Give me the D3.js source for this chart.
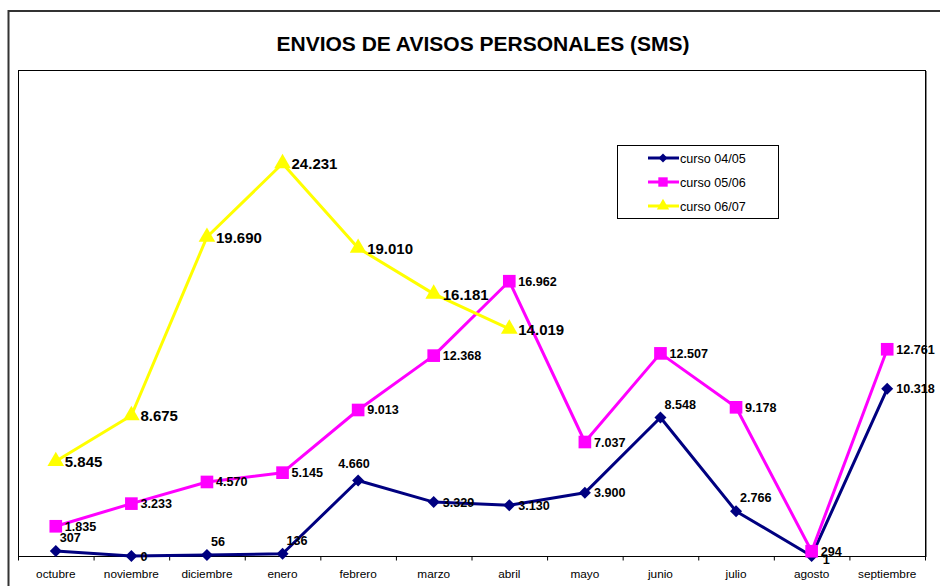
<!DOCTYPE html>
<html>
<head>
<meta charset="utf-8">
<script src="https://d3js.org/d3.v7.min.js"></script>
<style>
body { margin: 0; background: #fff; font-family: 'Liberation Sans', Arial, sans-serif; }
svg { display: block; }
</style>
</head>
<body>
<svg id="chart"></svg>
<script>
// Data
var months = ["octubre", "noviembre", "diciembre", "enero", "febrero", "marzo",
              "abril", "mayo", "junio", "julio", "agosto", "septiembre"];
var curso0405 = [307, 0, 56, 136, 4660, 3329, 3130, 3900, 8548, 2766, 1, 10318];
var curso0506 = [1835, 3233, 4570, 5145, 9013, 12368, 16962, 7037, 12507, 9178, 294, 12761];
var curso0607 = [5845, 8675, 19690, 24231, 19010, 16181, 14019];
// where each label of 04/05 sits: "r" right of the marker, "t" above it
var place0405 = ["t", "r", "t", "t", "c", "r", "r", "r", "t", "t", "b", "r"];
var seriesNames = ["curso 04/05", "curso 05/06", "curso 06/07"];

var width = 940, height = 586;
// note: "top" is a reserved window property, so use plot* names
var plotLeft = 18, plotRight = 925, plotTop = 70, plotBottom = 556;

var svg = d3.select("#chart").attr("width", width).attr("height", height);

// outer chart border (runs off the page on the right and bottom)
svg.append("rect")
  .attr("x", 8.5).attr("y", 11)
  .attr("width", 960).attr("height", 600)
  .attr("fill", "none").attr("stroke", "#333").attr("stroke-width", 2);

svg.append("text")
  .attr("x", 483).attr("y", 51)
  .attr("text-anchor", "middle")
  .style("font-size", "21px").style("font-weight", "bold")
  .text("ENVIOS DE AVISOS PERSONALES (SMS)");

var x = d3.scaleBand().domain(months).range([plotLeft, plotRight]);
var y = d3.scaleLinear().domain([0, 30000]).range([plotBottom, plotTop]);

// plot area
svg.append("rect")
  .attr("x", plotLeft + 0.5).attr("y", plotTop + 0.5)
  .attr("width", plotRight - plotLeft).attr("height", plotBottom - plotTop)
  .attr("fill", "none").attr("stroke", "#000").attr("stroke-width", 1);
svg.append("line")
  .attr("x1", plotRight + 1.5).attr("x2", plotRight + 1.5)
  .attr("y1", plotTop + 1).attr("y2", plotBottom + 1)
  .attr("stroke", "#888").attr("stroke-width", 1);

// x axis
var axis = svg.append("g").attr("transform", "translate(0," + (plotBottom + 0.5) + ")");
axis.append("line").attr("x1", plotLeft).attr("x2", plotRight + 1).attr("stroke", "#000");
axis.selectAll("line.tick")
  .data(months.concat(["end"]))
  .join("line").attr("class", "tick")
  .attr("x1", function (d, i) { return (i < months.length ? x(d) : plotRight) + 0.5; })
  .attr("x2", function (d, i) { return (i < months.length ? x(d) : plotRight) + 0.5; })
  .attr("y1", 0).attr("y2", 4)
  .attr("stroke", "#000");
axis.selectAll("text")
  .data(months)
  .join("text")
  .attr("x", function (d) { return x(d) + x.bandwidth() / 2; })
  .attr("y", 21)
  .attr("text-anchor", "middle")
  .style("font-size", "11.8px")
  .text(function (d) { return d; });

function cx(i) { return x(months[i]) + x.bandwidth() / 2; }
var fmt = function (v) { return d3.format(",")(v).replace(/,/g, "."); };

var line = d3.line()
  .x(function (d, i) { return cx(i); })
  .y(function (d) { return y(d); });

var series = [
  { values: curso0405, color: "#000080", marker: d3.symbolSquare, size: 72, rot: 45 },
  { values: curso0506, color: "#FF00FF", marker: d3.symbolSquare, size: 160, rot: 0 },
  { values: curso0607, color: "#FFFF00", marker: d3.symbolTriangle, size: 120, rot: 0 }
];

series.forEach(function (s) {
  svg.append("path")
    .datum(s.values)
    .attr("d", line)
    .attr("fill", "none")
    .attr("stroke", s.color)
    .attr("stroke-width", 3)
    .attr("stroke-linejoin", "round");
});

series.forEach(function (s) {
  svg.selectAll(null)
    .data(s.values)
    .join("path")
    .attr("transform", function (d, i) {
      return "translate(" + cx(i) + "," + y(d) + ") rotate(" + s.rot + ")";
    })
    .attr("d", d3.symbol().type(s.marker).size(s.size))
    .attr("fill", s.color);
});

// labels for 05/06 (right of the marker)
svg.selectAll(null)
  .data(curso0506)
  .join("text")
  .attr("x", function (d, i) { return cx(i) + 9; })
  .attr("y", function (d) { return y(d) + 4.5; })
  .style("font-size", "12.6px").style("font-weight", "bold")
  .text(fmt);

// labels for 06/07 (bigger)
svg.selectAll(null)
  .data(curso0607)
  .join("text")
  .attr("x", function (d, i) { return cx(i) + 9; })
  .attr("y", function (d) { return y(d) + 6; })
  .style("font-size", "15px").style("font-weight", "bold")
  .text(fmt);

// labels for 04/05
svg.selectAll(null)
  .data(curso0405)
  .join("text")
  .attr("x", function (d, i) {
    var p = place0405[i];
    if (p == "r") return cx(i) + 9;
    if (p == "c") return cx(i) - 4;
    if (p == "b") return cx(i) + 11;
    return cx(i) + 4;
  })
  .attr("y", function (d, i) {
    var p = place0405[i];
    if (p == "r") return y(d) + 4.5;
    if (p == "b") return y(d) + 8;
    if (p == "c") return y(d) - 13;
    return y(d) - 9;
  })
  .attr("text-anchor", function (d, i) { return place0405[i] == "c" ? "middle" : "start"; })
  .style("font-size", "12.6px").style("font-weight", "bold")
  .text(fmt);

// legend
var legend = svg.append("g").attr("transform", "translate(617,145)");
legend.append("rect")
  .attr("x", 0.5).attr("y", 0.5).attr("width", 161).attr("height", 73)
  .attr("fill", "#fff").attr("stroke", "#000");
series.forEach(function (s, i) {
  var ly = 13 + i * 24;
  legend.append("line")
    .attr("x1", 31).attr("x2", 62).attr("y1", ly).attr("y2", ly)
    .attr("stroke", s.color).attr("stroke-width", 3);
  legend.append("path")
    .attr("transform", "translate(46," + ly + ") rotate(" + s.rot + ")")
    .attr("d", d3.symbol().type(s.marker).size(s.size * 0.55))
    .attr("fill", s.color);
  legend.append("text")
    .attr("x", 63).attr("y", ly + 4.5)
    .style("font-size", "12.6px")
    .text(seriesNames[i]);
});
</script>
</body>
</html>
